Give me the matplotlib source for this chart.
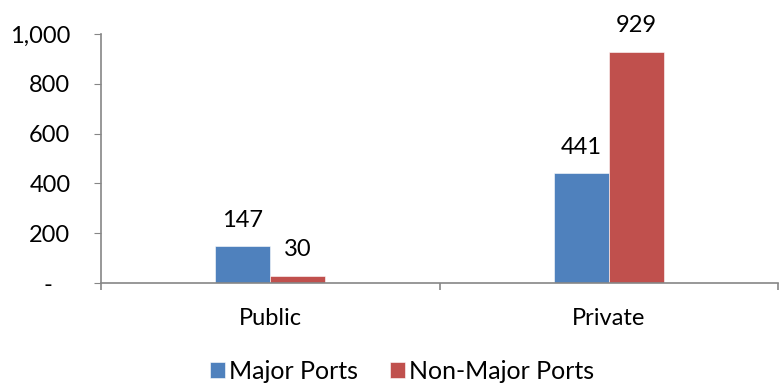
import numpy as np
import matplotlib.pyplot as plt
from matplotlib.ticker import FuncFormatter

plt.rcParams['font.family'] = ['Lato', 'DejaVu Sans']

categories = ["Public", "Private"]
major_ports = [147, 441]
non_major_ports = [30, 929]
series_names = ["Major Ports", "Non-Major Ports"]
colors = ["#4F81BD", "#C0504D"]

fig = plt.figure(figsize=(7.79, 3.83), dpi=100)
ax = fig.add_axes([0.1297, 0.261, 0.869, 0.650])

x = np.arange(len(categories))
w = 0.162
for i, (vals, name, c) in enumerate(zip([major_ports, non_major_ports], series_names, colors)):
    b = ax.bar(x + (i - 0.5) * w, vals, width=w, color=c, label=name,
               edgecolor="white", linewidth=0.4)
    ax.bar_label(b, labels=[f"{v:,}" for v in vals], padding=11, fontsize=17)


def fmt(v, pos):
    # zero is shown as a dash, accounting style
    return "-   " if v == 0 else f"{int(v):,}"


ax.set_xlim(-0.5, 1.5)
ax.set_ylim(0, 1000)
ax.set_yticks(np.arange(0, 1001, 200))
ax.yaxis.set_major_formatter(FuncFormatter(fmt))
ax.set_xticks(x)
ax.set_xticklabels(categories)
ax.set_xticks([-0.5, 0.5, 1.5], minor=True)

for s in ["top", "right"]:
    ax.spines[s].set_visible(False)
for s in ["left", "bottom"]:
    ax.spines[s].set_color("#868686")
    ax.spines[s].set_linewidth(1.2)

ax.tick_params(axis="y", length=5, color="#868686", labelsize=17, pad=17)
ax.tick_params(axis="x", which="major", length=0, labelsize=17, pad=18)
ax.tick_params(axis="x", which="minor", length=5, color="#868686", width=1.2)

ax.legend(loc="lower center", bbox_to_anchor=(0.445, -0.49), ncol=2, frameon=False,
          fontsize=18, handlelength=0.6, handleheight=0.6, handletextpad=0.15,
          columnspacing=1.3)

fig.savefig("out.png", dpi=100)
